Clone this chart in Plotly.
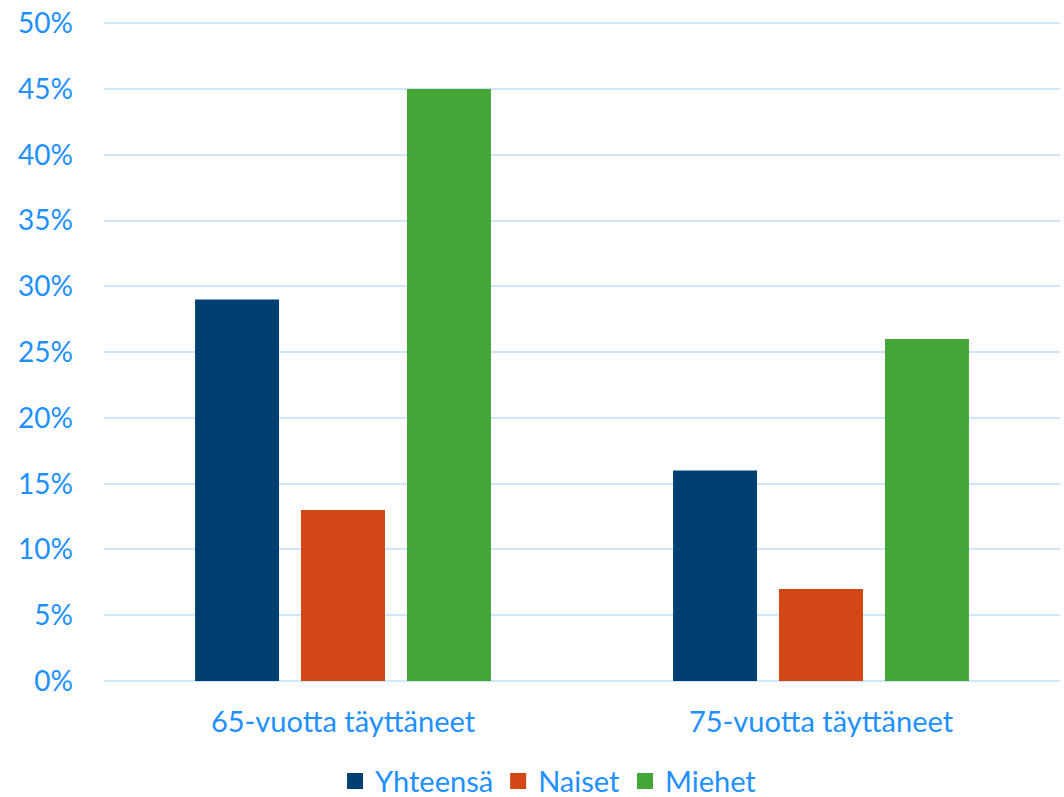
import plotly.graph_objects as go

categories = ["65-vuotta täyttäneet", "75-vuotta täyttäneet"]
yhteensa = [29, 16]
naiset = [13, 7]
miehet = [45, 26]
series_names = ["Yhteensä", "Naiset", "Miehet"]
colors = ["#003f72", "#d34615", "#43a637"]
y_tick_values = [0, 5, 10, 15, 20, 25, 30, 35, 40, 45, 50]
y_tick_labels = ["0%", "5%", "10%", "15%", "20%", "25%", "30%", "35%", "40%", "45%", "50%"]

text_color = "#1e90ff"
font_family = "Lato, 'Open Sans', sans-serif"

fig = go.Figure()
for name, vals, col in zip(series_names, [yhteensa, naiset, miehet], colors):
    fig.add_trace(go.Bar(x=categories, y=vals, name=name, showlegend=False,
                         marker=dict(color=col, line=dict(width=0))))
# legend entries with larger square symbols
for name, col in zip(series_names, colors):
    fig.add_trace(go.Scatter(x=[None], y=[None], mode="markers", name=name,
                             marker=dict(symbol="square", size=16, color=col)))

fig.update_layout(
    barmode="group",
    bargap=0.335,
    bargroupgap=0.2075,
    width=1064,
    height=805,
    margin=dict(l=104, r=4, t=22, b=124, autoexpand=False),
    paper_bgcolor="white",
    plot_bgcolor="white",
    font=dict(family=font_family, size=28, color=text_color),
    legend=dict(
        orientation="h",
        x=0.465,
        xanchor="center",
        y=-0.152,
        yanchor="middle",
        font=dict(size=29, color=text_color),
        itemwidth=30,
        traceorder="normal",
    ),
    yaxis=dict(
        range=[0, 50.1],
        tickmode="array",
        tickvals=y_tick_values,
        ticktext=y_tick_labels,
        showgrid=True,
        gridcolor="#cfe6f8",
        gridwidth=2,
        zeroline=True,
        zerolinecolor="#cfe6f8",
        zerolinewidth=2,
        showline=False,
        ticks="",
        automargin=False,
        ticklabeloverflow="allow",
        tickfont=dict(size=28, color=text_color),
        ticklabelstandoff=30,
    ),
    xaxis=dict(
        showline=False,
        ticks="",
        automargin=False,
        tickfont=dict(size=29, color=text_color),
        ticklabelstandoff=21,
    ),
)

fig.write_html("out.html", config={"displayModeBar": False},
               post_script="document.body.style.margin='0';")
